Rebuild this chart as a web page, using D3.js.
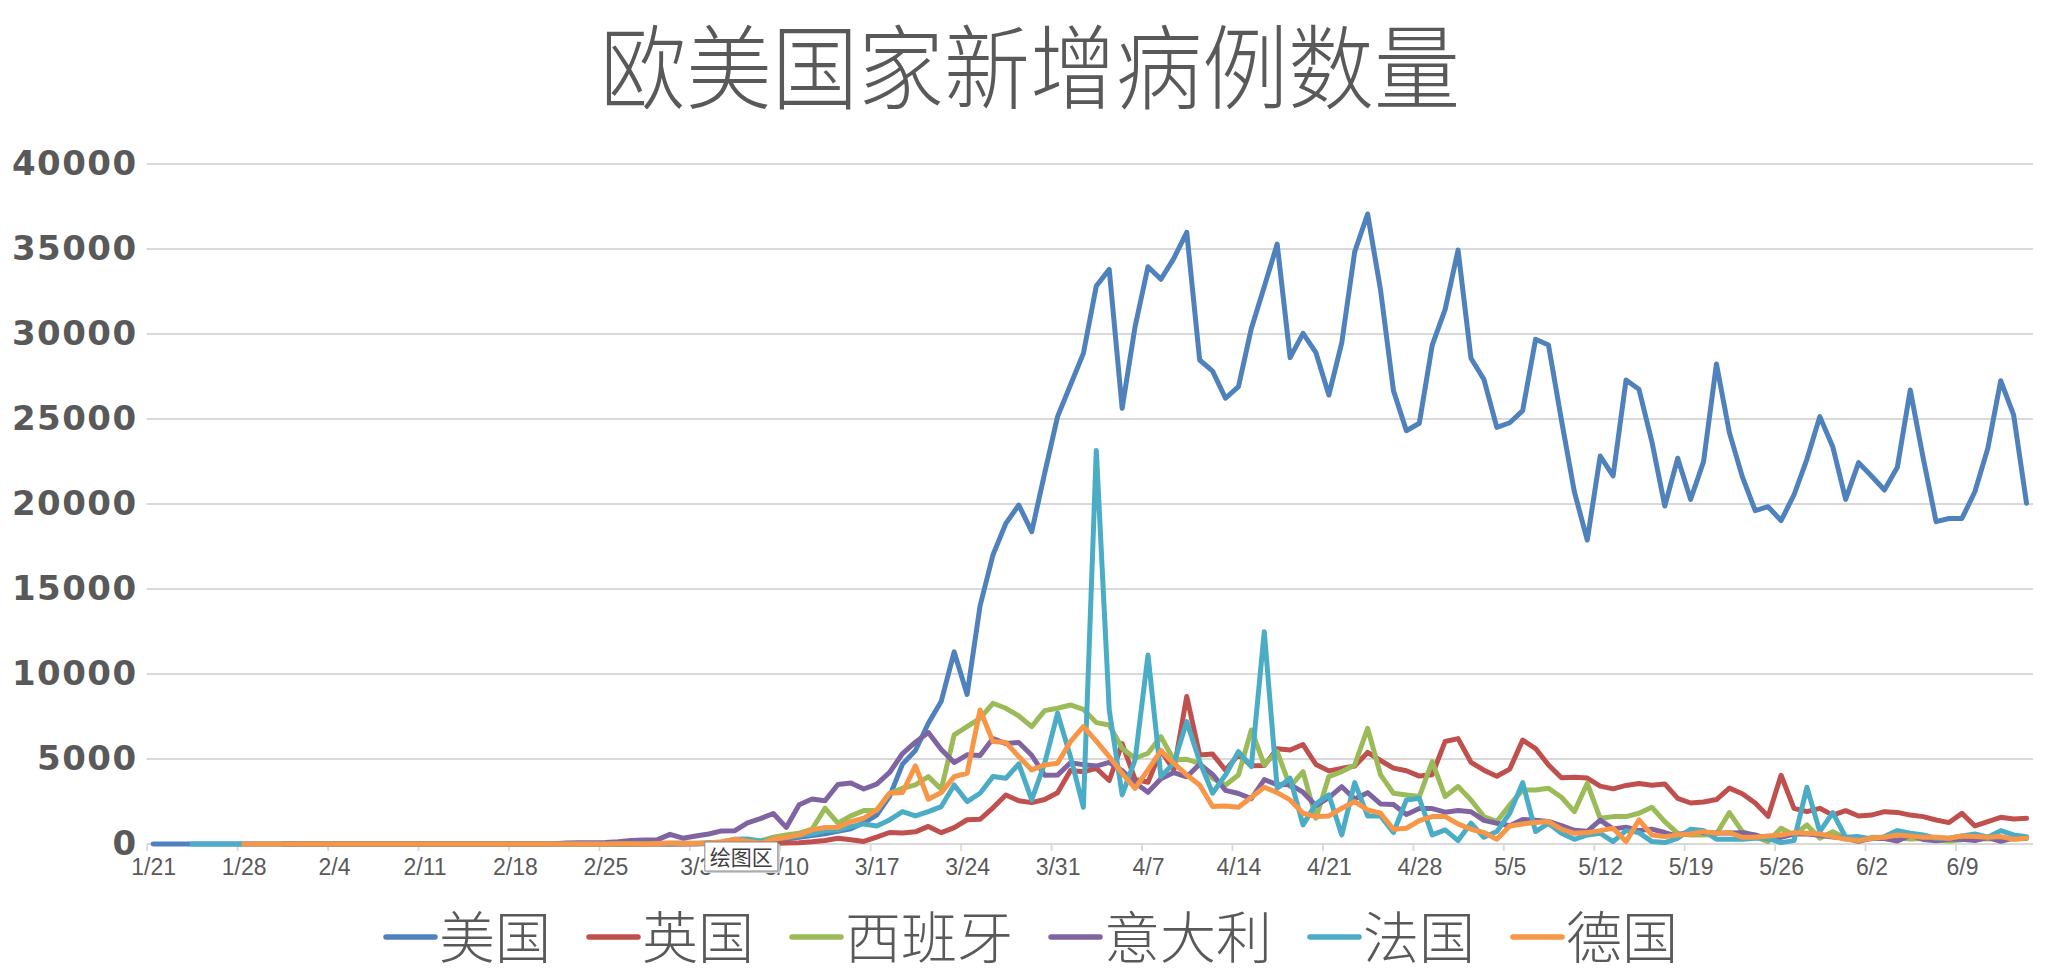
<!DOCTYPE html>
<html><head><meta charset="utf-8">
<script src="https://cdn.jsdelivr.net/npm/d3@7"></script>
<style>
html,body{margin:0;padding:0;background:#fff;}
svg{display:block;}
</style></head><body>
<svg id="chart" width="2048" height="977"></svg>
<script>
// ---------------- data ----------------
const chartTitle = "欧美国家新增病例数量";
const seriesNames = ["美国", "英国", "西班牙", "意大利", "法国", "德国"];
const seriesColors = ["#4F81BD", "#C0504D", "#9BBB59", "#8064A2", "#4BACC6", "#F79646"];
const categories = d3.timeDay.range(new Date(2020, 0, 21), new Date(2020, 5, 15)).map(d3.timeFormat("%-m/%-d"));
const xTickLabels = ["1/21","1/28","2/4","2/11","2/18","2/25","3/3","3/10","3/17","3/24","3/31","4/7","4/14","4/21","4/28","5/5","5/12","5/19","5/26","6/2","6/9"];
const yTickValues = [0, 5000, 10000, 15000, 20000, 25000, 30000, 35000, 40000];
const N = null;

const usa = [1,0,0,1,0,3,0,0,0,0, 1,1,1,3,0,0,0,0,0,1, 0,1,0,0,1,0,0,0,0,0,
  0,2,0,0,18,0,6,1,2,8, 6,23,20,31,68,70,100,120,200,290,
  400,500,600,750,900,1250,1700,2800,4700,5500, 7100,8400,11300,8800,14000,17000,18860,19940,18370,21800,
  25140,27000,28860,32820,33800,25630,30430,33960,33220,34450, 35980,28470,27820,26220,26900,30330,32780,35290,28610,30040,
  28900,26410,29490,34840,37060,32590,26670,24310,24750,29350, 31450,34940,28570,27330,24510,24780,25490,29690,29350,24940,
  20720,17880,22820,21650,27290,26750,23670,19880,22690,20270, 22490,28240,24200,21610,19610,19840,19020,20530,22630,25140,
  23370,20270,22430,21650,20820,22160,26710,22700,18960,19150, 19150,20720,23270,27250,25240,20040];

const uk = [N,N,N,N,N,N,N,N,N,N, 2,0,0,0,0,0,1,0,0,0, 4,1,0,0,0,0,0,0,0,0,
  0,0,0,0,0,0,4,0,5,3, 12,4,11,34,29,48,45,69,43,62,
  77,130,208,342,251,152,407,676,643,714, 1035,665,967,1427,1452,2129,2885,2546,2433,2619,
  3009,4324,4244,4450,3735,5903,3802,3634,5491,4344, 8681,5233,5288,4342,5252,4603,4617,5599,5525,5850,
  4676,4301,4451,4583,5386,4913,4463,4309,3996,4076, 6032,6201,4806,4339,3985,4406,6111,5614,4649,3896,
  3923,3877,3403,3242,3446,3560,3451,3534,2684,2412, 2472,2615,3287,2959,2409,1625,4043,2100,1900,2100,
  1700,1960,1650,1700,1900,1860,1700,1610,1410,1260, 1800,1060,1310,1570,1470,1510];

const spain = [N,N,N,N,N,N,N,N,N,N, N,1,0,0,0,0,0,0,0,1, 0,0,0,0,0,0,0,0,0,0,
  0,0,0,0,0,4,2,6,10,13, 39,36,45,57,37,141,100,173,400,535,
  633,868,2103,1221,1652,1965,1965,2985,3279,3475, 3965,3220,6415,6905,7395,8277,7983,7532,6905,7846,
  7983,8179,7924,7140,7003,5631,5043,5337,6317,4945, 4984,4749,3867,3475,4063,6709,4651,5435,3377,4259,
  1515,3965,4259,4651,6807,4063,2985,2887,2789,4847, 2789,3377,2593,1613,1319,2299,3181,3181,3279,2750,
  1905,3571,1513,1611,1611,1807,2160,1317,631,533, 533,592,1846,729,435,141,925,533,1121,337,
  729,337,141,396,380,350,300,330,240,170, 250,320,300,360,300,320];

const italy = [N,N,N,N,N,N,N,N,N,N, 2,0,0,0,0,0,1,0,0,0, 0,0,0,0,0,0,0,0,0,0,
  0,17,62,77,72,93,131,202,233,240, 566,342,466,587,769,778,1247,1492,1797,977,
  2313,2651,2547,3497,3590,3233,3526,4207,5322,5986, 6557,5560,4789,5249,5210,6203,5909,5974,5217,4050,
  4053,4782,4668,4585,4805,4316,3599,3039,3836,4204, 3951,4694,4092,3153,2972,2667,3786,3493,3491,3047,
  2256,2729,3370,2646,3021,2357,2324,1739,2091,2086, 1872,1965,1900,1389,1221,1075,1444,1401,1327,1083,
  802,744,1402,888,992,789,875,675,451,813, 665,642,652,669,531,300,397,584,593,516,
  416,355,178,318,321,177,518,270,197,280, 283,202,379,163,346,338];

const france = [N,N,N,2,1,0,0,1,1,0, 0,0,0,0,0,0,0,0,5,0, 0,0,0,0,0,1,0,0,0,0,
  0,0,0,0,0,2,4,20,19,43, 30,61,13,81,92,276,296,177,286,372,
  497,595,785,838,1025,1182,1064,1417,1907,1652, 1907,2201,3475,2495,2985,3965,3867,4710,2593,4749,
  7690,5141,2161,23150,7885,2887,4945,11119,3965,4749, 7199,4847,2985,4063,5435,4553,12491,3279,3867,1123,
  2358,2887,535,3612,1652,1652,672,2593,2691,535, 829,202,1221,398,731,1809,3612,731,1221,630,
  278,533,631,141,788,670,141,82,337,866, 788,278,278,278,337,337,82,200,3336,729,
  1846,396,435,300,435,788,631,533,337,337, 474,592,396,788,533,435];

const germany = [N,N,N,N,N,N,N,4,0,0, 1,3,0,0,0,2,0,0,0,1, 0,2,0,0,0,0,0,0,0,0,
  0,0,0,0,0,1,10,19,2,31, 66,28,39,66,138,284,163,55,281,398,
  535,829,966,966,1319,1515,2005,2985,3024,4592, 2632,3024,3965,4161,7885,6023,5964,5141,4357,4651,
  4749,6023,6905,6050,5141,4161,3279,4357,5494,4749, 4063,3475,2201,2240,2162,2750,3338,3024,2593,1809,
  1613,1652,2103,2495,2005,1809,868,927,1378,1613, 1613,1182,868,672,280,1064,1182,1260,1319,870,
  631,670,788,925,141,1415,533,435,533,592, 729,631,670,396,396,474,533,670,631,592,
  435,278,200,337,396,533,474,396,396,337, 474,435,396,435,278,337];

const seriesValues = [usa, uk, spain, italy, france, germany];

// ---------------- layout ----------------
const W = 2048, H = 977;
const plot = {left: 146.7, right: 2033, top: 164, bottom: 844};
const svg = d3.select("#chart");
svg.append("rect").attr("width", W).attr("height", H).attr("fill", "#fff");

const xSlot = d3.scaleLinear().domain([0, categories.length]).range([plot.left, plot.right]);
const xPoint = i => xSlot(i + 0.5);
const y = d3.scaleLinear().domain([0, 40000]).range([plot.bottom, plot.top]);

const gray = "#595959";
const gridColor = "#D9D9D9";

// title
svg.append("g").attr("transform", "translate(1030,102) scale(1,1.07)")
  .append("text")
  .attr("x", 0).attr("y", 0)
  .attr("text-anchor", "middle")
  .attr("font-family", "'Noto Sans CJK SC', sans-serif")
  .attr("font-weight", 300)
  .attr("font-size", 86)
  .attr("fill", gray)
  .text(chartTitle);

// gridlines
svg.append("g").selectAll("line").data(yTickValues).join("line")
  .attr("x1", plot.left).attr("x2", plot.right)
  .attr("y1", d => y(d)).attr("y2", d => y(d))
  .attr("stroke", gridColor).attr("stroke-width", 1.8);

// y axis labels
const yAxis = d3.axisLeft(y).tickValues(yTickValues).tickSize(0).tickPadding(9).tickFormat(d3.format("d"));
const yg = svg.append("g").attr("transform", `translate(${plot.left},0)`).call(yAxis);
yg.select(".domain").remove();
yg.selectAll("text")
  .attr("font-family", "'DejaVu Sans', sans-serif")
  .attr("font-weight", 700)
  .attr("font-size", 34)
  .attr("letter-spacing", 1.5)
  .attr("fill", gray);

// x axis
const tickIdx = xTickLabels.map(l => categories.indexOf(l));
const slotW = xSlot(1) - xSlot(0);
const xAxis = d3.axisBottom(xSlot).tickValues(tickIdx).tickSize(7).tickPadding(8)
  .tickFormat(i => categories[i]);
const xg = svg.append("g").attr("transform", `translate(0,${plot.bottom})`).call(xAxis);
xg.select(".domain").remove();
xg.selectAll(".tick line").attr("stroke", gridColor).attr("stroke-width", 1.8);
xg.selectAll(".tick text")
  .attr("transform", `translate(${slotW / 2},0)`)
  .attr("font-family", "'Liberation Sans Narrow', 'Liberation Sans', sans-serif")
  .attr("font-size", 23)
  .attr("fill", gray);

// lines
const line = d3.line()
  .defined(d => d.v !== null)
  .x(d => xPoint(d.i))
  .y(d => y(d.v));

svg.append("g").selectAll("path").data(seriesValues).join("path")
  .attr("d", vals => line(vals.map((v, i) => ({i, v}))))
  .attr("fill", "none")
  .attr("stroke", (d, k) => seriesColors[k])
  .attr("stroke-width", 5)
  .attr("stroke-linejoin", "round")
  .attr("stroke-linecap", "round");

// excel tooltip "绘图区"
const tipX = xSlot(43.2), tipY = plot.bottom - 2;
const tip = svg.append("g").attr("transform", `translate(${tipX},${tipY})`);
tip.append("rect").attr("x", 2).attr("y", 2).attr("width", 73).attr("height", 29).attr("fill", "#cfcfcf");
tip.append("rect").attr("width", 73).attr("height", 29).attr("fill", "#fff").attr("stroke", "#8a8a8a").attr("stroke-width", 1);
tip.append("text").attr("x", 5).attr("y", 23)
  .attr("font-family", "'Noto Sans CJK SC', sans-serif").attr("font-size", 21).attr("fill", "#404040")
  .text("绘图区");

// legend
const legend = svg.append("g");
const legendY = 937;
const gap = 38;
let lx = 0;
seriesNames.forEach((name, k) => {
  const g = legend.append("g");
  g.append("line").attr("x1", 0).attr("x2", 49).attr("y1", 0).attr("y2", 0)
    .attr("stroke", seriesColors[k]).attr("stroke-width", 5.5).attr("stroke-linecap", "round");
  const t = g.append("text").attr("x", 53).attr("y", 21)
    .attr("font-family", "'Noto Sans CJK SC', sans-serif").attr("font-weight", 300)
    .attr("font-size", 56).attr("fill", gray).text(name);
  const w = 53 + t.node().getComputedTextLength();
  g.attr("transform", `translate(${lx},${legendY})`);
  lx += w + gap;
});
const total = lx - gap;
legend.attr("transform", `translate(${1032 - total / 2},0)`);
</script>
</body></html>
